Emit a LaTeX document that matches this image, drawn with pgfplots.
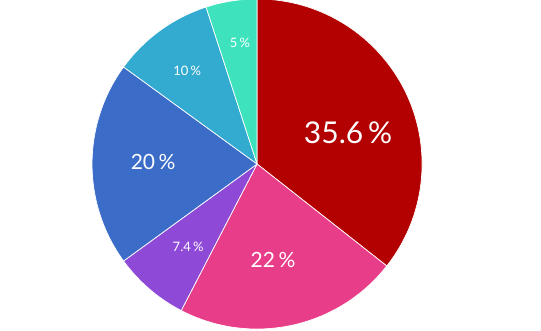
\documentclass[border=0pt]{standalone}
\usepackage{pgfplots}
\pgfplotsset{compat=1.18}
\usepackage{pgfplotstable}
\usepackage{fontspec}
\setmainfont{Lato}
\definecolor{c1}{RGB}{179,0,0}
\definecolor{c2}{RGB}{232,62,137}
\definecolor{c3}{RGB}{142,74,214}
\definecolor{c4}{RGB}{59,108,200}
\definecolor{c5}{RGB}{51,170,207}
\definecolor{c6}{RGB}{62,227,190}
\pgfplotstableread{
value color lx ly fs
35.6 c1 0.552 0.188 30
22 c2 0.097 -0.582 21
7.4 c3 -0.418 -0.503 13
20 c4 -0.630 0.012 21
10 c5 -0.424 0.564 13
5 c6 -0.103 0.733 13
}\piedata
\begin{document}
\begin{tikzpicture}
\fill[white] (0,0) rectangle (541pt,331pt);
\useasboundingbox (0,0) rectangle (541pt,331pt);
\begin{axis}[
  at={(0,0)}, anchor=south west,
  scale only axis, width=541pt, height=331pt,
  xmin=-1.558, xmax=1.721, ymin=-1.012, ymax=0.994,
  axis lines=none, clip=true,
]
\def\cum{0}
\pgfplotstablegetrowsof{\piedata}
\pgfmathtruncatemacro\nrows{\pgfplotsretval-1}
\pgfplotsforeachungrouped \i in {0,...,\nrows}{%
  \pgfplotstablegetelem{\i}{value}\of\piedata \let\v\pgfplotsretval
  \pgfplotstablegetelem{\i}{color}\of\piedata \let\c\pgfplotsretval
  \pgfmathsetmacro\a{90-3.6*\cum}%
  \pgfmathsetmacro\b{90-3.6*(\cum+\v)}%
  \edef\temp{\noexpand\fill[\c, draw=white, line width=0.7pt, line join=round] (axis cs:0,0) -- (axis cs:{cos(\a)},{sin(\a)}) arc[start angle=\a, end angle=\b, radius=1] -- cycle;}%
  \temp
  \pgfmathsetmacro\cum{\cum+\v}%
}
\pgfplotsforeachungrouped \i in {0,...,\nrows}{%
  \pgfplotstablegetelem{\i}{value}\of\piedata \let\v\pgfplotsretval
  \pgfplotstablegetelem{\i}{lx}\of\piedata \let\lx\pgfplotsretval
  \pgfplotstablegetelem{\i}{ly}\of\piedata \let\ly\pgfplotsretval
  \pgfplotstablegetelem{\i}{fs}\of\piedata \let\fs\pgfplotsretval
  \edef\temp{\noexpand\node[text=white, inner sep=0pt, font=\noexpand\fontsize{\fs}{\fs}\noexpand\selectfont] at (axis cs:\lx,\ly) {\v\noexpand\,\noexpand\%};}%
  \temp
}
\end{axis}
\end{tikzpicture}
\end{document}
